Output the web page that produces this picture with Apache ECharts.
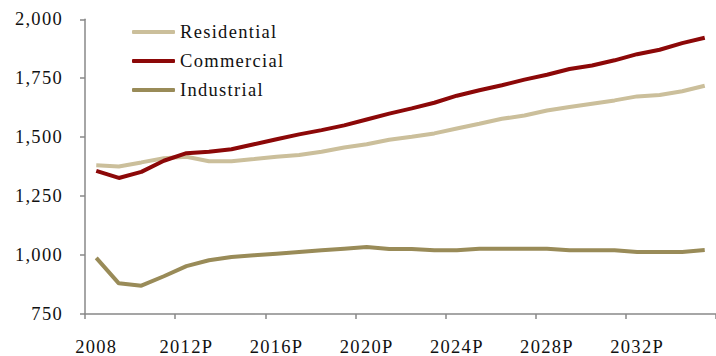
<!DOCTYPE html>
<html>
<head>
<meta charset="utf-8">
<script src="https://cdn.jsdelivr.net/npm/echarts@6/dist/echarts.min.js"></script>
<style>
  html, body { margin: 0; padding: 0; background: #fff; }
  #chart { width: 716px; height: 356px; }
  /* slightly open letter spacing for the serif labels */
  #chart svg text { letter-spacing: 1.3px !important; }
</style>
</head>
<body>
<div id="chart"></div>
<script>
// Years on the category axis (only every fourth label is shown)
const years = [
  '2008', '2009', '2010', '2011',
  '2012P', '2013P', '2014P', '2015P',
  '2016P', '2017P', '2018P', '2019P',
  '2020P', '2021P', '2022P', '2023P',
  '2024P', '2025P', '2026P', '2027P',
  '2028P', '2029P', '2030P', '2031P',
  '2032P', '2033P', '2034P', '2035P'
];

const residential = [
  1381, 1376, 1393, 1411, 1417, 1398, 1398, 1407, 1417, 1424,
  1438, 1456, 1470, 1489, 1502, 1516, 1537, 1557, 1578, 1592,
  1613, 1628, 1642, 1656, 1673, 1679, 1695, 1718
];

const commercial = [
  1357, 1327, 1353, 1400, 1432, 1438, 1449, 1470, 1491, 1512,
  1530, 1550, 1575, 1600, 1622, 1646, 1676, 1699, 1720, 1744,
  1765, 1789, 1804, 1826, 1852, 1871, 1899, 1922
];

const industrial = [
  988, 880, 870, 910, 953, 978, 992, 999, 1006, 1013,
  1020, 1027, 1034, 1026, 1026, 1020, 1020, 1027, 1027, 1027,
  1027, 1020, 1020, 1020, 1013, 1013, 1013, 1021
];

const yTicks = { min: 750, max: 2000, step: 250 };

const FONT = '"Liberation Serif", "Times New Roman", serif';
const colors = { residential: '#CBBF9B', commercial: '#8C0808', industrial: '#998B58' };

function lineSeries(name, data, color) {
  return {
    name: name,
    type: 'line',
    data: data,
    symbol: 'none',
    showSymbol: false,
    smooth: false,
    lineStyle: { color: color, width: 4 },
    itemStyle: { color: color },
    emphasis: { disabled: true }
  };
}

const chart = echarts.init(document.getElementById('chart'), null, { renderer: 'svg' });

chart.setOption({
  animation: false,
  backgroundColor: '#ffffff',
  grid: { left: 85, top: 19.3, bottom: 40.3, width: 642, containLabel: false },
  legend: {
    orient: 'vertical',
    left: 132,
    top: 22,
    padding: 0,
    icon: 'roundRect',
    itemWidth: 43,
    itemHeight: 4,
    itemGap: 9,
    selectedMode: false,
    textStyle: { fontFamily: FONT, fontSize: 18.5, color: '#111', lineHeight: 20 },
    data: ['Residential', 'Commercial', 'Industrial']
  },
  xAxis: {
    type: 'category',
    data: years,
    boundaryGap: true,
    axisLine: { lineStyle: { color: '#888', width: 1.5 } },
    axisTick: { show: true, interval: 3, length: 5, lineStyle: { color: '#888', width: 1.5 } },
    axisLabel: {
      interval: 3,
      margin: 23,
      fontFamily: FONT,
      fontSize: 18.5,
      color: '#111'
    },
    splitLine: { show: false }
  },
  yAxis: {
    type: 'value',
    min: yTicks.min,
    max: yTicks.max,
    interval: yTicks.step,
    axisLine: { show: true, lineStyle: { color: '#888', width: 1.5 } },
    axisTick: { show: true, length: 5, lineStyle: { color: '#888', width: 1.5 } },
    axisLabel: {
      margin: 22,
      fontFamily: FONT,
      fontSize: 18.5,
      color: '#111',
      formatter: v => v.toLocaleString('en-US')
    },
    splitLine: { show: false }
  },
  series: [
    lineSeries('Residential', residential, colors.residential),
    lineSeries('Commercial', commercial, colors.commercial),
    lineSeries('Industrial', industrial, colors.industrial)
  ]
});
</script>
</body>
</html>
